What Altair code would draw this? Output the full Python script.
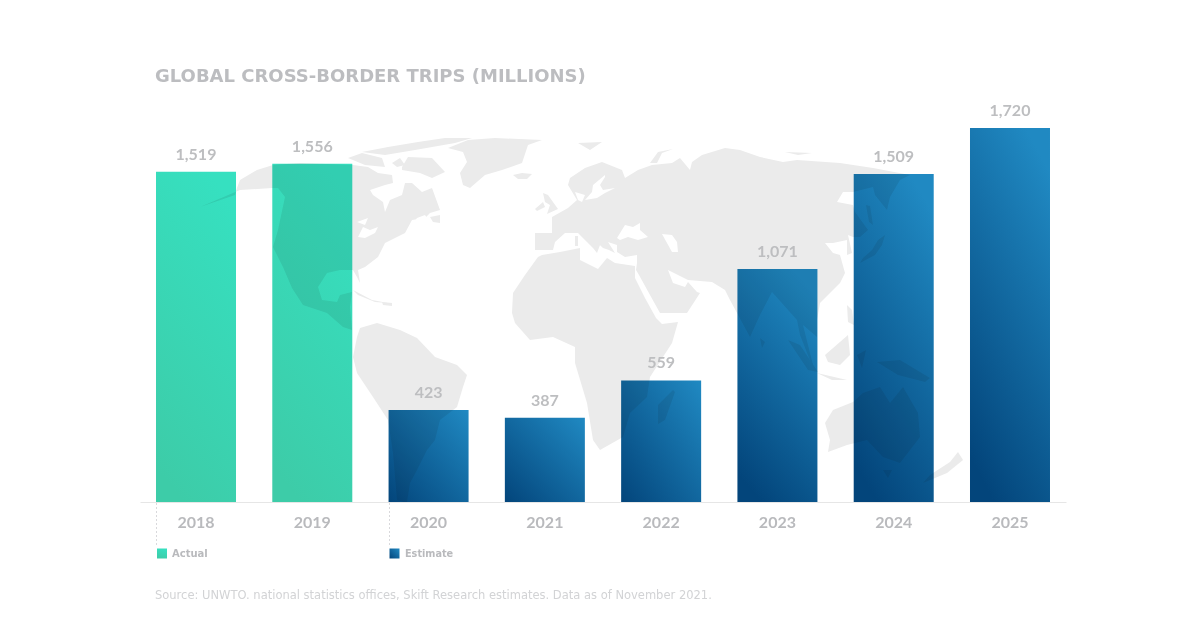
import altair as alt
import pandas as pd

YEARS = ["2018", "2019", "2020", "2021", "2022", "2023", "2024", "2025"]
TRIPS = [1519, 1556, 423, 387, 559, 1071, 1509, 1720]
KIND = ["Actual", "Actual", "Short", "Short", "Short", "Tall", "Tall", "Tall"]

TITLE = "GLOBAL CROSS-BORDER TRIPS (MILLIONS)"
SOURCE = "Source: UNWTO. national statistics offices, Skift Research estimates. Data as of November 2021."

# Backdrop world map outlines, in map units
NORTH_AMERICA = [[200,207],[235,195],[237,188],[240,180],[257,170],[273,165],[300,163],[353,165],[368,167],[378,173],[392,175],[393,183],[385,185],[370,190],[373,195],[383,202],[385,212],[390,200],[402,195],[405,183],[412,183],[422,192],[432,188],[440,210],[430,213],[425,218],[412,220],[405,233],[385,243],[378,257],[365,267],[358,270],[360,283],[357,277],[353,270],[340,270],[327,273],[318,287],[322,300],[337,302],[340,295],[352,292],[350,307],[352,330],[343,327],[327,313],[303,305],[292,288],[283,267],[273,247],[278,230],[285,197],[278,188],[272,188],[240,190]]
SOUTH_AMERICA = [[360,328],[377,323],[400,330],[417,338],[435,357],[457,365],[467,375],[463,387],[457,407],[440,420],[435,440],[427,450],[417,470],[410,483],[407,502],[423,508],[397,500],[393,453],[388,420],[373,397],[357,373],[353,357],[357,337]]
GREENLAND = [[448,148],[468,140],[495,138],[542,140],[528,145],[522,163],[502,170],[485,175],[470,188],[463,185],[460,173],[467,162],[463,152]]
AFRICA = [[512,313],[513,293],[525,275],[538,257],[542,255],[560,252],[580,248],[580,260],[598,269],[607,258],[615,263],[635,266],[635,278],[645,298],[656,318],[662,324],[678,322],[672,343],[650,377],[647,397],[630,413],[623,437],[600,450],[593,440],[587,403],[575,363],[575,347],[553,337],[530,340],[515,323]]
EURASIA = [[535,233],[535,250],[542,250],[553,250],[555,242],[565,233],[578,233],[593,248],[597,253],[600,245],[582,228],[603,248],[609,250],[615,253],[608,242],[617,245],[617,252],[625,257],[637,255],[637,263],[636,270],[639,275],[650,295],[660,313],[687,313],[700,293],[697,292],[688,282],[685,287],[673,283],[668,270],[678,275],[688,280],[712,282],[725,290],[730,300],[750,337],[760,315],[772,292],[797,320],[800,335],[815,373],[803,325],[817,337],[817,320],[820,303],[840,283],[845,273],[840,255],[833,253],[825,243],[833,243],[847,240],[847,255],[852,253],[848,235],[853,237],[860,237],[868,230],[855,212],[853,205],[837,202],[843,192],[853,192],[873,187],[875,195],[887,210],[890,197],[900,180],[910,175],[873,168],[840,163],[797,160],[783,162],[760,157],[740,150],[725,148],[702,155],[692,162],[690,170],[680,158],[672,163],[652,165],[638,170],[625,178],[622,170],[602,162],[585,168],[570,178],[568,185],[577,200],[568,208],[552,217],[552,233]]
AUSTRALIA = [[825,423],[833,410],[853,402],[863,393],[880,387],[890,403],[903,387],[918,413],[920,437],[900,463],[883,457],[867,440],[847,445],[828,452],[830,440]]
ISLANDS = [
    [[402,167],[408,157],[432,158],[445,172],[432,178],[420,173],[402,170]],
    [[362,152],[388,147],[418,142],[445,138],[472,138],[455,143],[415,150],[385,155]],
    [[348,158],[362,153],[382,158],[385,167],[365,165]],
    [[392,163],[400,158],[405,165],[397,167]],
    [[430,217],[440,215],[440,223],[433,222]],
    [[353,290],[372,300],[388,303],[375,302],[358,295]],
    [[382,302],[392,303],[392,306],[383,305]],
    [[513,175],[522,173],[532,174],[527,179],[518,179]],
    [[543,193],[548,195],[558,209],[547,214],[550,205],[545,202]],
    [[535,209],[543,202],[545,207],[537,211]],
    [[578,143],[602,142],[590,150]],
    [[650,163],[658,152],[673,149],[662,153],[657,163]],
    [[785,152],[812,153],[798,155]],
    [[575,236],[578,236],[578,246],[575,246]],
    [[673,390],[675,392],[665,420],[658,424],[658,405]],
    [[878,240],[885,235],[882,245],[875,255],[860,263],[863,258],[872,250]],
    [[866,205],[870,206],[873,225],[869,222]],
    [[788,340],[800,345],[818,372],[808,370]],
    [[817,373],[847,380],[832,380]],
    [[825,355],[848,335],[850,355],[840,365],[828,362]],
    [[847,305],[852,310],[854,325],[848,322]],
    [[857,355],[866,350],[862,368]],
    [[877,362],[900,360],[930,378],[925,382],[898,375]],
    [[760,338],[765,342],[762,348]],
    [[883,470],[892,470],[888,478]],
    [[958,452],[963,460],[947,473],[923,483],[930,475],[950,462]],
]
WATER = [
    [[617,238],[625,225],[633,227],[640,223],[640,230],[648,237],[638,240],[628,237],[620,240]],
    [[662,234],[672,235],[677,242],[678,252],[672,252],[667,243]],
    [[605,175],[593,185],[592,192],[585,200],[597,198],[605,193],[615,188],[603,190],[600,185],[605,177]],
    [[575,192],[585,195],[582,202],[578,200]],
    [[357,222],[368,218],[365,225]],
    [[358,237],[363,227],[370,230],[378,227],[375,233],[365,238]],
    [[408,230],[417,218],[425,215],[427,218],[418,222]],
]

def features(rings):
    return [{"type": "Feature", "properties": {},
             "geometry": {"type": "Polygon", "coordinates": [r + [r[0]]]}} for r in rings]

LAND = [NORTH_AMERICA, SOUTH_AMERICA, GREENLAND, AFRICA, EURASIA, AUSTRALIA] + ISLANDS

df = pd.DataFrame({"year": YEARS, "trips": TRIPS, "kind": KIND})

GREEN = alt.Gradient(gradient="linear", x1=0.35, y1=1, x2=0.65, y2=0,
                     stops=[alt.GradientStop(offset=0, color="#3dcca8"),
                            alt.GradientStop(offset=1, color="#36e0c0")])
BLUE_SHORT = alt.Gradient(gradient="linear", x1=0, y1=1, x2=1, y2=0,
                          stops=[alt.GradientStop(offset=0, color="#03457b"),
                                 alt.GradientStop(offset=1, color="#2089c2")])
BLUE_TALL = alt.Gradient(gradient="linear", x1=0.3, y1=1, x2=0.7, y2=0,
                         stops=[alt.GradientStop(offset=0, color="#03457b"),
                                alt.GradientStop(offset=1, color="#2089c2")])

PROJ = {"type": "identity", "scale": 1, "translate": [-140, -128]}
land = alt.Chart(alt.InlineData(values=features(LAND))).mark_geoshape(fill="#ebebeb", strokeWidth=0).project(**PROJ)
water = alt.Chart(alt.InlineData(values=features(WATER))).mark_geoshape(fill="#ffffff", strokeWidth=0).project(**PROJ)

TITLE_FONT = "DejaVu Sans"
FONT = "Lato"
x = alt.X("year:N", sort=YEARS, title=None,
          scale=alt.Scale(domain=YEARS, paddingInner=0.312, paddingOuter=0.1376),
          axis=alt.Axis(labelAngle=0, labelFont=FONT, labelFontSize=16, labelFontWeight=700,
                        labelColor="#b9babd", labelPadding=12, ticks=False,
                        domainColor="#e6e6e6", domainWidth=1, grid=False))
y = alt.Y("trips:Q", title=None, axis=None, scale=alt.Scale(domain=[0, 1720], nice=False))

actual = alt.Chart(df[df.kind == "Actual"]).mark_bar(color=GREEN, blend="multiply").encode(x=x, y=y)
short = alt.Chart(df[df.kind == "Short"]).mark_bar(color=BLUE_SHORT, blend="multiply").encode(x=x, y=y)
tall = alt.Chart(df[df.kind == "Tall"]).mark_bar(color=BLUE_TALL, blend="multiply").encode(x=x, y=y)
labels = alt.Chart(df).mark_text(baseline="bottom", dy=-9, font=FONT, fontSize=16, fontWeight=700,
                                 color="#bdbec0").encode(x=x, y=y, text=alt.Text("trips:Q", format=",d"))

def dotted(px):
    return alt.Chart(pd.DataFrame({"a": [0]})).mark_rule(
        color="#d9d9dc", strokeDash=[2, 2], strokeWidth=1
    ).encode(x=alt.value(px), y=alt.value(375), y2=alt.value(417))

def swatch(px, fill):
    return alt.Chart(pd.DataFrame({"a": [0]})).mark_square(size=100, fill=fill, opacity=1).encode(
        x=alt.value(px), y=alt.value(425.5))

def note(px, py, txt, size, weight, col, font=TITLE_FONT):
    return alt.Chart(pd.DataFrame({"t": [txt]})).mark_text(
        align="left", baseline="middle", font=font, fontSize=size, fontWeight=weight, color=col
    ).encode(x=alt.value(px), y=alt.value(py), text="t:N")

chart = alt.layer(
    land, water, actual, short, tall, labels,
    dotted(16.5), dotted(249.5),
    swatch(22, GREEN), swatch(254.5, BLUE_SHORT),
    note(32, 425.5, "Actual", 10, 600, "#b9babd"),
    note(265, 425.5, "Estimate", 9.7, 600, "#b9babd"),
    note(15, 467.5, SOURCE, 11.5, 400, "#d2d3d5"),
).properties(
    width=926, height=374,
    padding={"left": 132, "top": 120, "right": 126, "bottom": 118},
    autosize=alt.AutoSizeParams(type="none"),
    title=alt.TitleParams(TITLE, anchor="start", frame="group", dx=15, offset=17,
                          font=TITLE_FONT, fontSize=18, fontWeight=700, color="#bcbdc0"),
    view=alt.ViewConfig(stroke="transparent", strokeWidth=0),
).configure_view(stroke="transparent", strokeWidth=0).configure(background="#ffffff")

chart.save("out.html", embed_options={"renderer": "svg", "actions": False})
